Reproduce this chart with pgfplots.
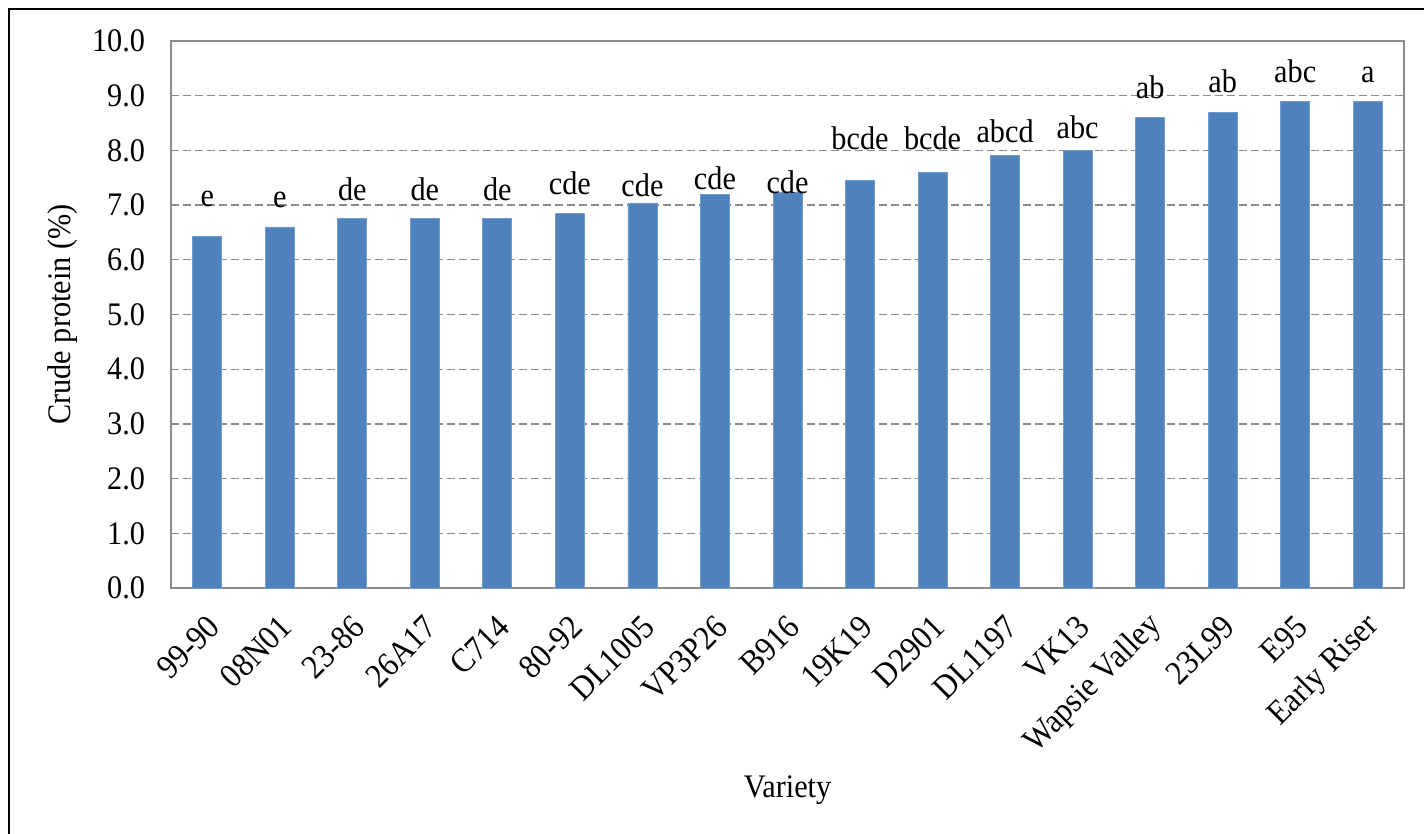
\documentclass[border=0pt]{standalone}
\usepackage{pgfplots}
\pgfplotsset{compat=1.18}
\usepackage{pgfplotstable}
\usepackage{fontspec}
\setmainfont[FakeStretch=0.92]{Liberation Serif}
\definecolor{barblue}{HTML}{4F81BD}
\definecolor{gridgray}{HTML}{8C8C8C}
\pgfplotstableread{
x y
0 6.42
1 6.60
2 6.75
3 6.75
4 6.75
5 6.85
6 7.04
7 7.20
8 7.23
9 7.45
10 7.60
11 7.90
12 8.00
13 8.60
14 8.70
15 8.90
16 8.90
}\datatable
\pgfplotstableread{
x y lab
0 6.98 e
1 6.95 e
2 7.09 de
3 7.09 de
4 7.09 de
5 7.20 cde
6 7.16 cde
7 7.29 cde
8 7.22 cde
9 8.01 bcde
10 8.02 bcde
11 8.14 abcd
12 8.22 abc
13 8.95 ab
14 9.06 ab
15 9.25 abc
16 9.25 a
}\labtable
\begin{document}
\begin{tikzpicture}
\useasboundingbox (-85.5bp,-123bp) rectangle (626.5bp,294bp);
\draw[black, line width=0.8bp] (-81bp,-140bp) -- (-81bp,289.5bp) -- (640bp,289.5bp);
\begin{axis}[
  at={(0,0)}, anchor=south west,
  scale only axis,
  width=616.5bp, height=273.5bp,
  font=\fontsize{16.5}{19}\selectfont,
  /pgf/number format/assume math mode=true,
  xmin=-0.5, xmax=16.5,
  ymin=0, ymax=10,
  ytick={0,1,...,10},
  yticklabel={\pgfmathprintnumber[fixed,fixed zerofill,precision=1]{\tick}},
  xtick=data,
  xticklabels={99-90,08N01,23-86,26A17,C714,80-92,DL1005,VP3P26,B916,19K19,D2901,DL1197,VK13,Wapsie Valley,23L99,E95,Early Riser},
  x tick label style={rotate=45, anchor=east, yshift=-14bp, xshift=-6bp, font=\fontsize{17}{19}\selectfont},
  y tick label style={xshift=-9.5bp},
  xtick style={draw=none},
  ytick style={draw=gridgray, line width=0.6bp},
  tick align=inside,
  major tick length=2.5bp,
  ymajorgrids,
  grid style={draw=gridgray, dash pattern=on 4bp off 2bp, line width=0.6bp},
  axis line style={draw=gridgray, line width=0.8bp},
  ylabel={Crude protein (\%)},
  ylabel style={at={(axis description cs:-0.088,0.5)}, anchor=center},
  xlabel={Variety},
  xlabel style={at={(axis description cs:0.5,-0.369)}, anchor=center},
  clip=false,
]
\addplot[ybar, bar width=14.5bp, fill=barblue, draw=barblue!80!white, line width=0.4bp] table[x=x,y=y]{\datatable};
\addplot[only marks, mark=none, nodes near coords, point meta=explicit symbolic,
  every node near coord/.style={anchor=base, inner sep=0pt, font=\fontsize{16.5}{19}\selectfont}]
  table[x=x,y=y,meta=lab]{\labtable};
\end{axis}
\end{tikzpicture}
\end{document}
